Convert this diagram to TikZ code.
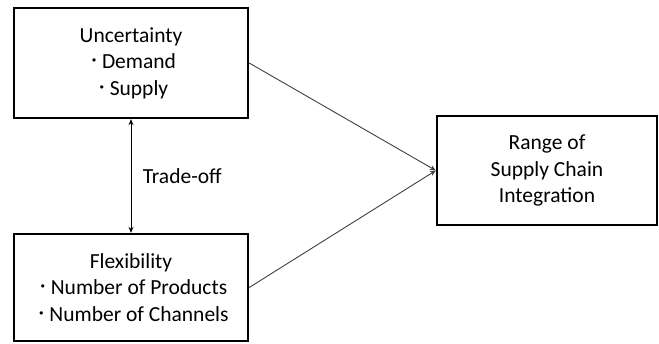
\documentclass[tikz,border=0pt]{standalone}
\usepackage{fontspec}
\setmainfont{Carlito}
\newfontfamily\jpfont{Noto Sans CJK JP}
\usetikzlibrary{arrows.meta}

\tikzstyle{blk} = [style={rectangle,draw,line width=2.4pt,align=center,inner sep=0pt}]
\tikzstyle{lnk} = [style={draw=black!75,line width=0.9pt,-{Stealth[length=6pt,width=5pt]}}]
\newcommand*{\bul}{\raisebox{2pt}{\jpfont\fontsize{16}{16}\selectfont ・}}

\begin{document}
\begin{tikzpicture}[x=1pt,y=-1pt,font=\fontsize{21.5}{26.5}\selectfont]
\useasboundingbox (0,0) rectangle (659,343);

%% boxes
\node [blk, minimum width=234pt, minimum height=110pt] (unc) at (131,63)
  {Uncertainty\\\bul Demand\\\bul Supply};
\node [blk, minimum width=234pt, minimum height=107pt] (flex) at (131,287.5)
  {Flexibility\\\bul Number of Products\\\bul Number of Channels};
\node [blk, minimum width=220pt, minimum height=109pt] (rng) at (547,170.5)
  {Range of\\Supply Chain\\Integration};

%% links
\draw [lnk] (unc.east) -- (rng.west);
\draw [lnk] (flex.east) -- (rng.west);

%% trade-off
\draw [line width=0.9pt, {Stealth[length=6pt,width=5pt]}-{Stealth[length=6pt,width=5pt]}]
  (unc.south) -- (flex.north) node[midway, anchor=west, xshift=8pt] (trd) {Trade-off};

\end{tikzpicture}
\end{document}
